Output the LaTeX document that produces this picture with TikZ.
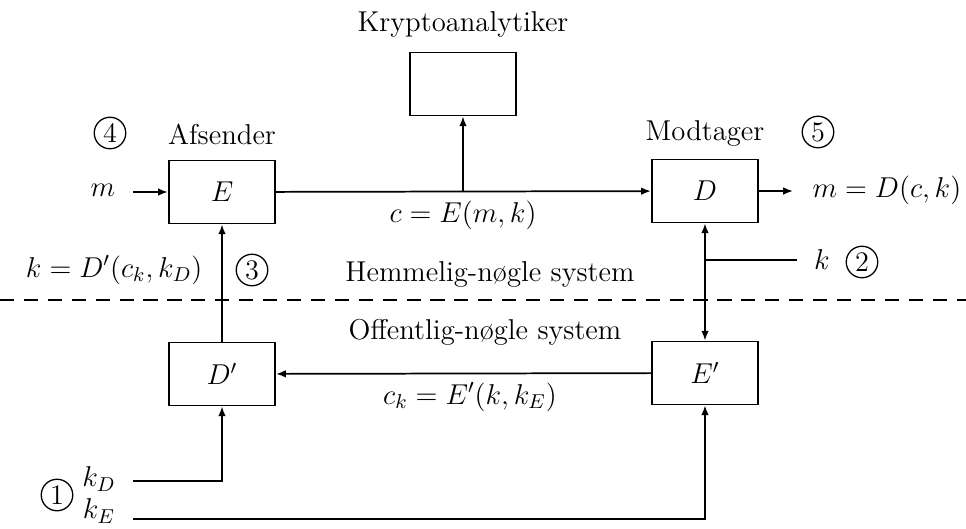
\RequirePackage{fix-cm}
\documentclass[tikz,border=0pt]{standalone}
\usepackage{amsmath}
\usepackage{tikz}
\usetikzlibrary{
    positioning,  % For placing nodes relative to each other
    arrows.meta,  % For arrow tips (Latex)
    calc          % For coordinate calculations
}
\tikzset{
    % A box for the cipher blocks
    cipher_box/.style={
        rectangle, draw=black, line width=0.8pt,
        minimum width=49pt, minimum height=29pt, inner sep=2pt
    },
    % Plain text labels
    label_text/.style={inner sep=1pt},
    % Circled step numbers
    step_mark/.style={
        circle, draw=black, line width=0.6pt, minimum size=14.5pt, inner sep=0pt,
        font=\fontsize{13}{15}\selectfont
    },
    % Connector styles
    flow_line/.style={line width=0.8pt},
    flow_arrow/.style={line width=0.8pt, -{Latex[length=4.5pt,width=3.5pt]}},
    both_arrow/.style={line width=0.8pt, {Latex[length=4.5pt,width=3.5pt]}-{Latex[length=4.5pt,width=3.5pt]}},
    border_line/.style={line width=0.8pt, dash pattern=on 6.5pt off 4.5pt}
}

\begin{document}
\begin{tikzpicture}[x=0.46pt, y=-0.46pt, font=\fontsize{13.2}{16}\selectfont]

\useasboundingbox (0,0) rectangle (966,528);

% --- BLOCKS ---

\node[cipher_box] (E_box) at (222,192) {$E$};
\node[cipher_box] (D_box) at (705,191) {$D$};
\node[cipher_box] (krypto_box) at (463,84) {};
\node[cipher_box] (Dp_box) at (222,374) {$D'$};
\node[cipher_box] (Ep_box) at (705,373) {$E'$};

% --- TITLES AND STEP NUMBERS ---

\node[label_text] (krypto_title) at (463,24) {Kryptoanalytiker};
\node[label_text] (afsender_title) at (222,134) {Afsender};
\node[label_text] (modtager_title) at (705,133) {Modtager};
\node[step_mark] (step_four) at (110,133) {4};
\node[step_mark] (step_five) at (818,132) {5};
\node[step_mark] (step_three) at (252,270) {3};
\node[step_mark] (step_two) at (862,262) {2};
\node[step_mark] (step_one) at (57,495) {1};

\node[label_text] (secret_title) at (490,274) {Hemmelig-n\o gle system};
\node[label_text] (public_title) at (485,332) {Offentlig-n\o gle system};

% --- MATH LABELS ---

\node[label_text] (m_label) at (103,190) {$m$};
\node[label_text, anchor=west] (out_label) at (810,190) {$m = D(c,k)$};
\node[label_text] (c_label) at (463,215) {$c = E(m,k)$};
\node[label_text, anchor=east] (kdec_label) at (205,270) {$k = D'(c_k,k_D)$};
\node[label_text] (k_label) at (822,260) {$k$};
\node[label_text] (ck_label) at (470,397) {$c_k = E'(k,k_E)$};
\node[label_text] (kD_label) at (99,479) {$k_D$};
\node[label_text] (kE_label) at (99,511) {$k_E$};

% --- FREE ENDS ---

\coordinate (m_start) at (133,192);
\coordinate (out_end) at (793,191);
\coordinate (tap) at (krypto_box.south |- E_box.east);
\coordinate (k_start) at (797,260);
\coordinate (kD_start) at (133,481);
\coordinate (kE_start) at (133,519);

% --- EDGE ROUTING ---

\draw[flow_arrow] (m_start) -- (E_box);
\draw[flow_arrow] (E_box) -- (D_box);
\draw[flow_arrow] (tap) -- (krypto_box);
\draw[flow_arrow] (D_box.east) -- (out_end);
\draw[flow_arrow] (Dp_box) -- (E_box);
\draw[both_arrow] (Ep_box) -- (D_box);
\draw[flow_line] (k_start) -- (k_start -| D_box.south);
\draw[flow_arrow] (Ep_box) -- (Dp_box);
\draw[flow_arrow] (kD_start) -| (Dp_box);
\draw[flow_arrow] (kE_start) -| (Ep_box);

% Border between the two systems
\draw[border_line] (0,300) -- (966,300);

\end{tikzpicture}
\end{document}
